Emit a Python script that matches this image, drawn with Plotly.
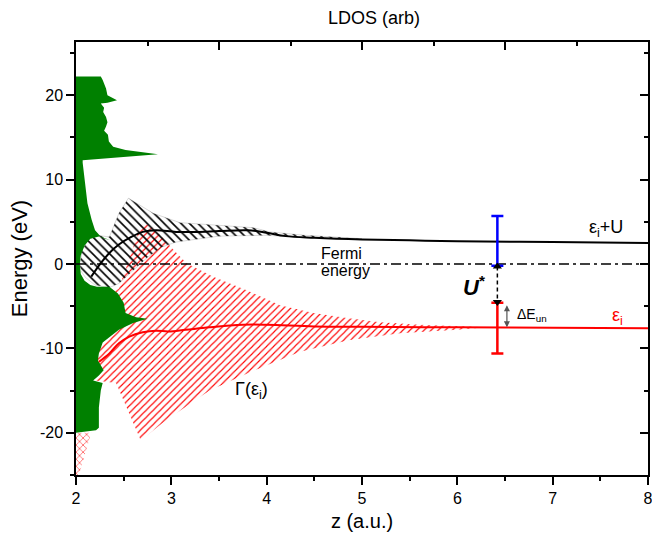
import plotly.graph_objects as go

FONT = "Liberation Sans, Arial, sans-serif"

# ---- data ----
# LDOS (green) polygon, right boundary from top to bottom (z, E)
ldos_z = [2.0, 2.26, 2.28, 2.295, 2.315, 2.33, 2.43, 2.33, 2.26, 2.295, 2.285, 2.315, 2.33, 2.315,
          2.295, 2.335, 2.345, 2.39, 2.52, 2.86, 2.52, 2.14, 2.07, 2.07, 2.09, 2.12, 2.165, 2.2,
          2.27, 2.36, 2.25, 2.15, 2.09, 2.05, 2.04, 2.05, 2.09, 2.15, 2.22, 2.35, 2.44, 2.5,
          2.52, 2.63, 2.75, 2.6, 2.45, 2.35, 2.28, 2.24, 2.23, 2.26, 2.29, 2.24, 2.18, 2.28,
          2.26, 2.24, 2.24, 2.21, 2.1, 2.0]
ldos_E = [22.2, 22.2, 21.8, 21.4, 20.8, 20.0, 19.4, 19.1, 19.0, 18.5, 18.0, 17.4, 16.8, 16.3,
          15.8, 15.3, 14.5, 13.9, 13.5, 13.0, 12.7, 12.4, 12.3, 12.0, 10.0, 7.2, 5.2, 4.0,
          3.1, 2.8, 3.3, 3.0, 2.2, 1.0, 0.0, -1.2, -2.0, -2.5, -2.7, -2.7, -3.5, -4.6,
          -5.8, -6.3, -6.5, -7.0, -7.8, -8.7, -9.3, -10.6, -11.4, -12.0, -12.6, -13.2, -13.8, -14.1,
          -15.0, -17.0, -19.4, -19.7, -19.9, -20.0]

# Gamma(eps_i + U) band (black hatch)
band_u_z = [2.04, 2.07, 2.13, 2.22, 2.35, 2.45, 2.55, 2.81, 3.09, 3.5, 3.86, 4.03, 4.4, 5.0,
            4.4, 4.0, 3.5, 3.05, 2.9, 2.75, 2.6, 2.45, 2.35, 2.2, 2.1, 2.05]
band_u_E = [0.0, 1.8, 2.9, 3.4, 3.2, 6.0, 7.8, 6.0, 4.9, 4.6, 4.3, 3.8, 3.4, 3.0,
            3.1, 3.4, 3.3, 2.6, 2.0, 0.8, -0.8, -2.3, -2.8, -2.5, -1.6, -0.8]

# Gamma(eps_i) band (red hatch)
band_i_z = [2.68, 2.73, 2.8, 2.92, 3.03, 3.16, 3.44, 3.79, 4.14, 4.49, 4.84, 5.19, 5.6, 6.0, 6.3,
            6.0, 5.4, 4.87, 4.35, 3.83, 3.4, 3.15, 2.9, 2.68, 2.42, 2.2, 2.15, 2.3, 2.45]
band_i_E = [4.6, 4.8, 4.3, 3.0, 1.6, 0.1, -1.5, -3.1, -4.9, -5.8, -6.4, -6.9, -7.2, -7.4, -7.5,
            -7.8, -8.2, -9.0, -10.4, -12.8, -15.0, -16.9, -18.9, -20.9, -14.1, -13.8, -8.0, -4.0, -2.9]

# lower-left strip
strip_z = [2.0, 2.16, 2.03, 2.0]
strip_E = [-20.0, -20.0, -25.0, -25.0]

# eps_i + U level
epsU_z = [2.16, 2.26, 2.35, 2.45, 2.58, 2.70, 2.84, 3.05, 3.26, 3.5, 3.8, 4.0, 4.2, 4.5, 5.0, 5.5, 6.0, 7.0, 8.0]
epsU_E = [-1.5, 0.1, 1.3, 2.3, 3.2, 3.8, 4.0, 3.8, 3.8, 3.9, 4.0, 3.7, 3.3, 3.1, 2.9, 2.8, 2.7, 2.6, 2.5]

# eps_i level
epsi_z = [2.24, 2.35, 2.45, 2.56, 2.7, 2.84, 2.97, 3.15, 3.4, 3.75, 4.0, 4.5, 5.0, 6.0, 7.0, 8.0]
epsi_E = [-11.6, -10.6, -9.4, -8.6, -8.1, -7.9, -8.0, -7.8, -7.5, -7.2, -7.2, -7.4, -7.45, -7.5, -7.55, -7.6]

# error bars at z = 6.42
bar_z = [6.42]
blue_center = [2.6]
blue_plus = [3.1]
blue_minus = [2.8]
red_center = [-7.55]
red_plus = [2.95]
red_minus = [3.05]

# U* dashed arrow and Delta E_un arrow
ustar_E = [-0.3, -4.5]
dEun_E = [-4.7, -7.5]

y_tickvals = [-20, -10, 0, 10, 20]
y_ticktext = ["-20", "-10", "0", "10", "20"]

fig = go.Figure()

# red hatched band
fig.add_trace(go.Scatter(x=band_i_z, y=band_i_E, fill="toself", mode="lines",
                         line=dict(width=0, color="rgba(255,0,0,0.3)"),
                         fillcolor="rgba(0,0,0,0)",
                         fillpattern=dict(shape="/", fgcolor="#ff0000", bgcolor="rgba(0,0,0,0)",
                                          fgopacity=1, size=5, solidity=0.22),
                         hoverinfo="skip", showlegend=False))
fig.add_trace(go.Scatter(x=strip_z, y=strip_E, fill="toself", mode="lines",
                         line=dict(width=0),
                         fillcolor="rgba(0,0,0,0)",
                         fillpattern=dict(shape="x", fgcolor="#ff2020", bgcolor="rgba(0,0,0,0)",
                                          fgopacity=1, size=5, solidity=0.22),
                         hoverinfo="skip", showlegend=False))
# black hatched band
fig.add_trace(go.Scatter(x=band_u_z, y=band_u_E, fill="toself", mode="lines",
                         line=dict(width=0.5, color="rgba(0,0,0,0.3)"),
                         fillcolor="rgba(0,0,0,0)",
                         fillpattern=dict(shape="\\", fgcolor="#000000", bgcolor="rgba(0,0,0,0)",
                                          fgopacity=1, size=6, solidity=0.27),
                         hoverinfo="skip", showlegend=False))
# green LDOS
fig.add_trace(go.Scatter(x=ldos_z, y=ldos_E, fill="toself", mode="lines",
                         line=dict(width=0, color="#008000"), fillcolor="#008000",
                         hoverinfo="skip", showlegend=False))
# Fermi level
fig.add_trace(go.Scatter(x=[2, 8], y=[0, 0], mode="lines",
                         line=dict(color="black", width=1.5, dash="10px,4px,3px,4px"),
                         hoverinfo="skip", showlegend=False))
# levels
fig.add_trace(go.Scatter(x=epsU_z, y=epsU_E, mode="lines", line=dict(color="black", width=2, shape="spline"),
                         hoverinfo="skip", showlegend=False))
fig.add_trace(go.Scatter(x=epsi_z, y=epsi_E, mode="lines", line=dict(color="red", width=2, shape="spline"),
                         hoverinfo="skip", showlegend=False))
# error bars
fig.add_trace(go.Scatter(x=bar_z, y=blue_center, mode="markers", marker=dict(size=1, color="rgba(0,0,0,0)"),
                         error_y=dict(type="data", array=blue_plus, arrayminus=blue_minus, color="blue",
                                      thickness=2.5, width=6),
                         hoverinfo="skip", showlegend=False))
fig.add_trace(go.Scatter(x=bar_z, y=red_center, mode="markers", marker=dict(size=1, color="rgba(0,0,0,0)"),
                         error_y=dict(type="data", array=red_plus, arrayminus=red_minus, color="red",
                                      thickness=2.5, width=6),
                         hoverinfo="skip", showlegend=False))
# U* dashed double arrow
fig.add_trace(go.Scatter(x=bar_z * 2, y=ustar_E, mode="lines+markers",
                         line=dict(color="black", width=1.5, dash="4px,3px"),
                         marker=dict(symbol=["triangle-up", "triangle-down"], size=8, color="black"),
                         hoverinfo="skip", showlegend=False))
# dummy trace for secondary axes
fig.add_trace(go.Scatter(x=[0], y=[0], xaxis="x2", yaxis="y2", mode="markers",
                         marker=dict(size=1, color="rgba(0,0,0,0)"), hoverinfo="skip", showlegend=False))

annotations = [
    dict(x=6.52, y=dEun_E[1], ax=6.52, ay=dEun_E[0], xref="x", yref="y", axref="x", ayref="y",
         showarrow=True, arrowhead=2, arrowside="end+start", arrowsize=1, arrowwidth=1.2,
         arrowcolor="#555555", text=""),
    dict(x=4.55, y=1.2, xref="x", yref="y", text="Fermi", showarrow=False,
         xanchor="left", yanchor="middle", font=dict(size=16, color="black", family=FONT)),
    dict(x=4.55, y=-0.75, xref="x", yref="y", text="energy", showarrow=False,
         xanchor="left", yanchor="middle", font=dict(size=16, color="black", family=FONT)),
    dict(x=7.56, y=4.2, xref="x", yref="y", text="ε<sub>i</sub>+U", showarrow=False,
         font=dict(size=18, color="black", family=FONT)),
    dict(x=7.68, y=-6.2, xref="x", yref="y", text="ε<sub>i</sub>", showarrow=False,
         font=dict(size=18, color="red", family=FONT)),
    dict(x=6.78, y=-6.1, xref="x", yref="y", text="ΔE<sub>un</sub>", showarrow=False,
         font=dict(size=14, color="black", family=FONT)),
    dict(x=6.17, y=-2.6, xref="x", yref="y", text="<b><i>U</i></b><sup><b>*</b></sup>", showarrow=False,
         font=dict(size=22, color="black", family=FONT)),
    dict(x=3.84, y=-15.0, xref="x", yref="y", text="Γ(ε<sub>i</sub>)", showarrow=False,
         font=dict(size=18, color="black", family=FONT)),
    dict(x=(374 - 76) / (652 - 80), y=1 + (42 - 18) / (534 - 101), xref="paper", yref="paper",
         xanchor="center", yanchor="middle",
         text="LDOS (arb)", showarrow=False, font=dict(size=18, color="black", family=FONT)),
]

axis_common = dict(showgrid=False, zeroline=False, showline=True, linecolor="black", linewidth=1.5,
                   tickcolor="black", tickwidth=1.5, automargin=False)

fig.update_layout(
    width=652, height=534,
    margin=dict(l=76, r=4, t=42, b=59, autoexpand=False),
    plot_bgcolor="white", paper_bgcolor="white",
    font=dict(family=FONT, color="black"),
    annotations=annotations,
    xaxis=dict(range=[2, 8], tickmode="linear", tick0=2, dtick=1, ticks="outside", ticklen=8,
               ticklabeloverflow="allow",
               minor=dict(dtick=0.5, tick0=2, ticklen=4, ticks="outside", tickcolor="black", tickwidth=1.5),
               tickfont=dict(size=16), title=dict(text="z (a.u.)", font=dict(size=20), standoff=8),
               **axis_common),
    yaxis=dict(range=[-25, 26.3], tickmode="array", tickvals=y_tickvals, ticktext=y_ticktext,
               ticks="outside", ticklen=8,
               minor=dict(tickmode="linear", dtick=5, tick0=0, ticklen=4, ticks="outside",
                          tickcolor="black", tickwidth=1.5),
               tickfont=dict(size=16), title=dict(text="Energy (eV)", font=dict(size=22), standoff=6),
               **axis_common),
    xaxis2=dict(range=[0, 4], overlaying="x", side="top", anchor="y", tickmode="linear", tick0=0, dtick=1,
                ticks="inside", ticklen=8, showticklabels=False,
                minor=dict(dtick=0.5, tick0=0, ticklen=4, ticks="inside", tickcolor="black", tickwidth=1.5),
                **axis_common),
    yaxis2=dict(range=[-25, 26.3], overlaying="y", side="right", anchor="x", tickmode="linear", tick0=0,
                dtick=10, ticks="inside", ticklen=8, showticklabels=False,
                minor=dict(dtick=5, tick0=0, ticklen=4, ticks="inside", tickcolor="black", tickwidth=1.5),
                **axis_common),
)

fig.write_html("out.html")
